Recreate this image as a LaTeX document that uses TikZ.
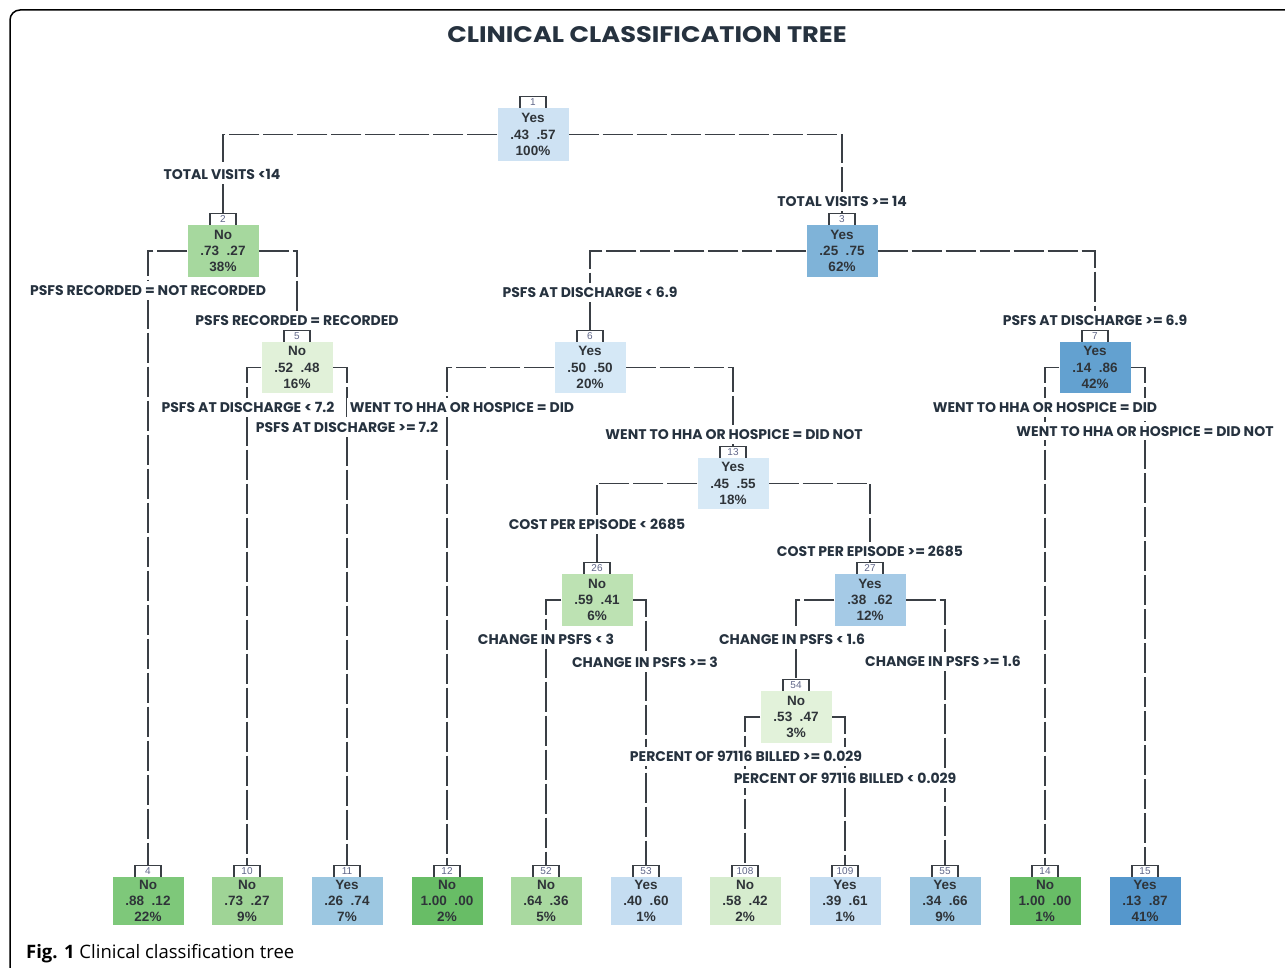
\documentclass[tikz,border=0pt]{standalone}
\usepackage{fontspec}
\setmainfont{Liberation Sans}
\newfontfamily\titlefont{Poppins}
\newfontfamily\capfont{Open Sans}
\definecolor{linec}{HTML}{3A3F45}
\definecolor{txtc}{HTML}{2F3439}
\definecolor{lblc}{HTML}{26323F}
\definecolor{numc}{HTML}{5F6688}
\definecolor{bgw}{HTML}{FFFFFF}
\definecolor{cA}{HTML}{CEE2F3}
\definecolor{cB}{HTML}{A6D89E}
\definecolor{cC}{HTML}{7FB3D8}
\definecolor{cE}{HTML}{E1F1D9}
\definecolor{cF}{HTML}{D5E8F6}
\definecolor{cG}{HTML}{63A1D0}
\definecolor{cM}{HTML}{D7E9F6}
\definecolor{cZ}{HTML}{BDE2B3}
\definecolor{cY}{HTML}{A5CAE6}
\definecolor{cX}{HTML}{E2F2DA}
\definecolor{lD}{HTML}{7EC87A}
\definecolor{lJ}{HTML}{9FD496}
\definecolor{lK}{HTML}{9CC7E1}
\definecolor{lL}{HTML}{68BD66}
\definecolor{lP}{HTML}{A9D9A0}
\definecolor{lQ}{HTML}{C5DDF1}
\definecolor{lR}{HTML}{D6ECCE}
\definecolor{lS}{HTML}{9CC6E1}
\definecolor{lT}{HTML}{5597CC}
\pgfdeclarelayer{lines}
\pgfdeclarelayer{masks}
\pgfsetlayers{lines,masks,main}
\tikzset{
  treebox/.style={rectangle, minimum width=71pt, inner sep=0pt, align=center,
    text=txtc, font=\fontsize{13.5}{16.3}\selectfont\bfseries},
  tabn/.style={rectangle, minimum width=26pt, minimum height=11pt, inner sep=0pt,
    text=numc, font=\fontsize{10}{10}\selectfont},
  tabline/.style={draw=linec, line width=1.6pt},
  conn/.style={draw=linec, line width=1.6pt, dash pattern=on 30pt off 4pt},
  lbl/.style={inner xsep=2pt, inner ysep=3pt, text height=10pt, text depth=0pt,
    minimum height=16pt, text=lblc, font=\titlefont\fontsize{14}{15}\selectfont\bfseries}
}
\newcommand\tnode[9]{%
  \node[treebox, fill=#5, minimum height=#4] (#1) at (#2,#3) {#6\\#7\\#8};
  \node[tabn, anchor=south] (#1t) at (#1.north) {#9};
  \draw[tabline] (#1t.south west) |- (#1t.north east) -- (#1t.south east);
}
\newcommand\elabel[4]{%
  \node[lbl] (#1) at (#2,#3) {#4};
  \begin{pgfonlayer}{masks}
    \fill[bgw] ([xshift=-1pt,yshift=-1pt]#1.south west) rectangle ([xshift=1pt,yshift=1pt]#1.north east);
  \end{pgfonlayer}
}
% parent anchor, child tab, label
\newcommand\tedge[3]{%
  \begin{pgfonlayer}{lines}
    \draw[conn] (#1) -| (#2.north |- #3.north);
    \draw[conn] (#2.north |- #3.south) -- (#2.north);
  \end{pgfonlayer}
}
\begin{document}
\begin{tikzpicture}[x=1pt,y=-1pt]
\useasboundingbox (0,0) rectangle (1285,968);
\draw[line width=1.5pt, rounded corners=10pt] (10,10) rectangle (1310,1000);
\node[text=lblc, font=\titlefont\fontsize{22.5}{24}\selectfont\bfseries] (title) at (647,35) {\scalebox{1.14}[1]{CLINICAL CLASSIFICATION TREE}};
% internal nodes
\tnode{n1}{533}{134.5}{53pt}{cA}{Yes}{.43\ \ .57}{100\%}{1}
\tnode{n2}{223}{251}{52pt}{cB}{No}{.73\ \ .27}{38\%}{2}
\tnode{n3}{842}{251}{52pt}{cC}{Yes}{.25\ \ .75}{62\%}{3}
\tnode{n5}{297}{367.5}{51pt}{cE}{No}{.52\ \ .48}{16\%}{5}
\tnode{n6}{590}{367.5}{51pt}{cF}{Yes}{.50\ \ .50}{20\%}{6}
\tnode{n7}{1095}{367.5}{51pt}{cG}{Yes}{.14\ \ .86}{42\%}{7}
\tnode{n13}{733}{483.5}{51pt}{cM}{Yes}{.45\ \ .55}{18\%}{13}
\tnode{n26}{597}{600}{52pt}{cZ}{No}{.59\ \ .41}{6\%}{26}
\tnode{n27}{870}{600}{52pt}{cY}{Yes}{.38\ \ .62}{12\%}{27}
\tnode{n54}{796}{717}{52pt}{cX}{No}{.53\ \ .47}{3\%}{54}
% leaves
\tnode{n4}{148}{901}{48pt}{lD}{No}{.88\ \ .12}{22\%}{4}
\tnode{n10}{247}{901}{48pt}{lJ}{No}{.73\ \ .27}{9\%}{10}
\tnode{n11}{347}{901}{48pt}{lK}{Yes}{.26\ \ .74}{7\%}{11}
\tnode{n12}{447}{901}{48pt}{lL}{No}{1.00\ \ .00}{2\%}{12}
\tnode{n52}{546}{901}{48pt}{lP}{No}{.64\ \ .36}{5\%}{52}
\tnode{n53}{646}{901}{48pt}{lQ}{Yes}{.40\ \ .60}{1\%}{53}
\tnode{n108}{745}{901}{48pt}{lR}{No}{.58\ \ .42}{2\%}{108}
\tnode{n109}{845}{901}{48pt}{lQ}{Yes}{.39\ \ .61}{1\%}{109}
\tnode{n55}{945}{901}{48pt}{lS}{Yes}{.34\ \ .66}{9\%}{55}
\tnode{n14}{1045}{901}{48pt}{lL}{No}{1.00\ \ .00}{1\%}{14}
\tnode{n15}{1145}{901}{48pt}{lT}{Yes}{.13\ \ .87}{41\%}{15}
% labels
\elabel{l2}{222}{175}{TOTAL VISITS <14}
\elabel{l3}{842}{201.5}{TOTAL VISITS >= 14}
\elabel{l4}{148}{290.5}{PSFS RECORDED = NOT RECORDED}
\elabel{l5}{297}{320.5}{PSFS RECORDED = RECORDED}
\elabel{l6}{590}{292.5}{PSFS AT DISCHARGE < 6.9}
\elabel{l7}{1095}{320.5}{PSFS AT DISCHARGE >= 6.9}
\elabel{l10}{248}{407.5}{PSFS AT DISCHARGE < 7.2}
\elabel{l11}{347}{427.5}{PSFS AT DISCHARGE >= 7.2}
\elabel{l12}{462}{407.5}{WENT TO HHA OR HOSPICE = DID}
\elabel{l13}{734}{434.5}{WENT TO HHA OR HOSPICE = DID NOT}
\elabel{l14}{1045}{407.5}{WENT TO HHA OR HOSPICE = DID}
\elabel{l15}{1145}{431}{WENT TO HHA OR HOSPICE = DID NOT}
\elabel{l26}{597}{524.5}{COST PER EPISODE < 2685}
\elabel{l27}{870}{551}{COST PER EPISODE >= 2685}
\elabel{l52}{546}{639.5}{CHANGE IN PSFS < 3}
\elabel{l53}{645}{662.5}{CHANGE IN PSFS >= 3}
\elabel{l54}{792}{639.5}{CHANGE IN PSFS < 1.6}
\elabel{l55}{943}{661.5}{CHANGE IN PSFS >= 1.6}
\elabel{l108}{746}{756.5}{PERCENT OF 97116 BILLED >= 0.029}
\elabel{l109}{845}{778.5}{PERCENT OF 97116 BILLED < 0.029}
% connectors, broken where their labels sit
\tedge{n1.west}{n2t}{l2}
\tedge{n1.east}{n3t}{l3}
\tedge{n2.west}{n4t}{l4}
\tedge{n2.east}{n5t}{l5}
\tedge{n3.west}{n6t}{l6}
\tedge{n3.east}{n7t}{l7}
\tedge{n5.west}{n10t}{l10}
\tedge{n5.east}{n11t}{l11}
\tedge{n6.west}{n12t}{l12}
\tedge{n6.east}{n13t}{l13}
\tedge{n7.west}{n14t}{l14}
\tedge{n7.east}{n15t}{l15}
\tedge{n13.west}{n26t}{l26}
\tedge{n13.east}{n27t}{l27}
\tedge{n26.west}{n52t}{l52}
\tedge{n26.east}{n53t}{l53}
\tedge{n27.west}{n54t}{l54}
\tedge{n27.east}{n55t}{l55}
\tedge{n54.west}{n108t}{l108}
\tedge{n54.east}{n109t}{l109}
% caption
\node[anchor=base west, inner sep=0pt, font=\capfont\fontsize{18.5}{21}\selectfont] (cap) at (26,958) {\textbf{Fig. 1} Clinical classification tree};
\end{tikzpicture}
\end{document}
